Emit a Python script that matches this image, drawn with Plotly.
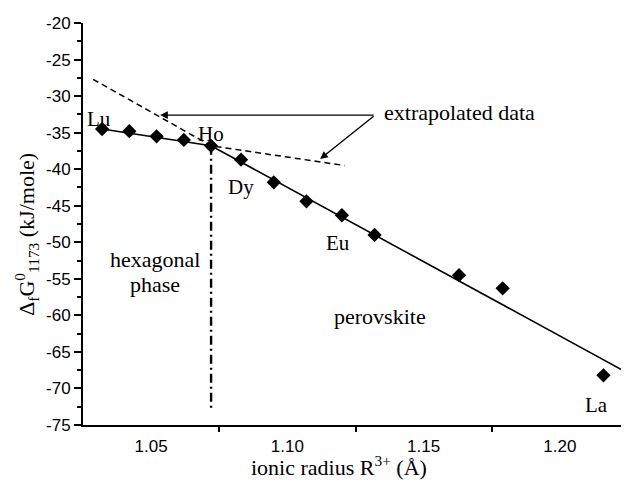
import plotly.graph_objects as go

# ---- data ----
elements = ["Lu", "Yb", "Tm", "Er", "Ho", "Dy", "Tb", "Gd", "Eu", "Sm", "Nd", "Pr", "La"]
radius = [1.032, 1.042, 1.052, 1.062, 1.072, 1.083, 1.095, 1.107, 1.120, 1.132, 1.163, 1.179, 1.216]
dG = [-34.5, -34.8, -35.5, -36.0, -36.8, -38.7, -41.8, -44.4, -46.3, -49.0, -54.5, -56.3, -68.2]

fit_x = [1.032, 1.072, 1.225]
fit_y = [-34.5, -36.8, -67.9]

extrap_x = [1.0287, 1.072, 1.121]
extrap_y = [-27.7, -36.8, -39.5]

boundary_x = [1.072, 1.072]
boundary_y = [-36.8, -72.8]

x_tickvals = [1.05, 1.10, 1.15, 1.20]
x_ticktext = ["1.05", "1.10", "1.15", "1.20"]
y_tickvals = [-20, -25, -30, -35, -40, -45, -50, -55, -60, -65, -70, -75]
y_ticktext = ["-20", "-25", "-30", "-35", "-40", "-45", "-50", "-55", "-60", "-65", "-70", "-75"]

SERIF = "Liberation Serif"
SANS = "Liberation Sans"

fig = go.Figure()
fig.add_trace(go.Scatter(x=extrap_x, y=extrap_y, mode="lines",
                         line=dict(color="black", width=1.5, dash="6px,4px"),
                         showlegend=False, hoverinfo="skip"))
fig.add_trace(go.Scatter(x=boundary_x, y=boundary_y, mode="lines",
                         line=dict(color="black", width=2.4, dash="9px,4px,2px,4px"),
                         showlegend=False, hoverinfo="skip"))
fig.add_trace(go.Scatter(x=fit_x, y=fit_y, mode="lines",
                         line=dict(color="black", width=1.6),
                         showlegend=False, hoverinfo="skip"))
fig.add_trace(go.Scatter(x=radius, y=dG, mode="markers", text=elements,
                         marker=dict(symbol="diamond", size=11, color="black"),
                         showlegend=False))

labels = [
    ("Lu", 1.0309, -33.1, 21),
    ("Ho", 1.0718, -35.2, 21),
    ("Dy", 1.0830, -42.4, 21),
    ("Eu", 1.1184, -50.1, 21),
    ("La", 1.2133, -72.3, 21),
    ("perovskite", 1.134, -60.2, 22),
    ("hexagonal", 1.0514, -52.4, 22),
    ("phase", 1.0514, -55.8, 22),
]
for t, x, y, s in labels:
    fig.add_annotation(x=x, y=y, text=t, showarrow=False, xanchor="center", yanchor="middle",
                       font=dict(family=SERIF, size=s, color="black"))

fig.add_annotation(x=1.1346, y=-32.3, text="extrapolated data", showarrow=False,
                   xanchor="left", yanchor="middle", font=dict(family=SERIF, size=22, color="black"))

# arrows
for (hx, hy) in [(1.0533, -32.6), (1.112, -38.6)]:
    fig.add_annotation(x=hx, y=hy, ax=1.1322, ay=-32.6, axref="x", ayref="y",
                       text="", showarrow=True, arrowhead=2, arrowsize=1.1,
                       arrowwidth=1.4, arrowcolor="black")

# y axis title
fig.add_annotation(xref="paper", yref="paper", x=-0.105, y=0.475, textangle=-90,
                   text="Δ<sub>f</sub>G<sup>0</sup><sub>1173</sub> (kJ/mole)", showarrow=False,
                   xanchor="center", yanchor="middle", font=dict(family=SERIF, size=22, color="black"))
# x axis title
fig.add_annotation(xref="paper", yref="paper", x=0.47, y=-0.102,
                   text="ionic radius R<sup>3+</sup> (Å)", showarrow=False,
                   xanchor="center", yanchor="middle", font=dict(family=SERIF, size=22, color="black"))

# page has an 8px body margin, so the figure is drawn 8px smaller and offset accordingly
fig.update_layout(
    width=621, height=475,
    margin=dict(l=75, r=1, t=15, b=58),
    paper_bgcolor="white", plot_bgcolor="white",
    xaxis=dict(range=[1.025, 1.225], showgrid=False, zeroline=False, automargin=False,
               showline=True, linecolor="black", linewidth=2,
               tickvals=x_tickvals, ticktext=x_ticktext, ticks="", ticklabelstandoff=5,
               tickfont=dict(family=SANS, size=17, color="black"),
               minor=dict(tickvals=[1.075, 1.125, 1.175], ticks="outside", ticklen=5,
                          tickcolor="black", tickwidth=2)),
    yaxis=dict(range=[-75, -20], showgrid=False, zeroline=False, automargin=False,
               showline=True, linecolor="black", linewidth=2,
               tickvals=y_tickvals, ticktext=y_ticktext,
               ticks="outside", ticklen=7, tickwidth=2, tickcolor="black",
               tickfont=dict(family=SANS, size=17, color="black"),
               minor=dict(dtick=2.5, tick0=-22.5, ticks="outside", ticklen=4,
                          tickcolor="black", tickwidth=2)),
)

fig.write_html("out.html")
